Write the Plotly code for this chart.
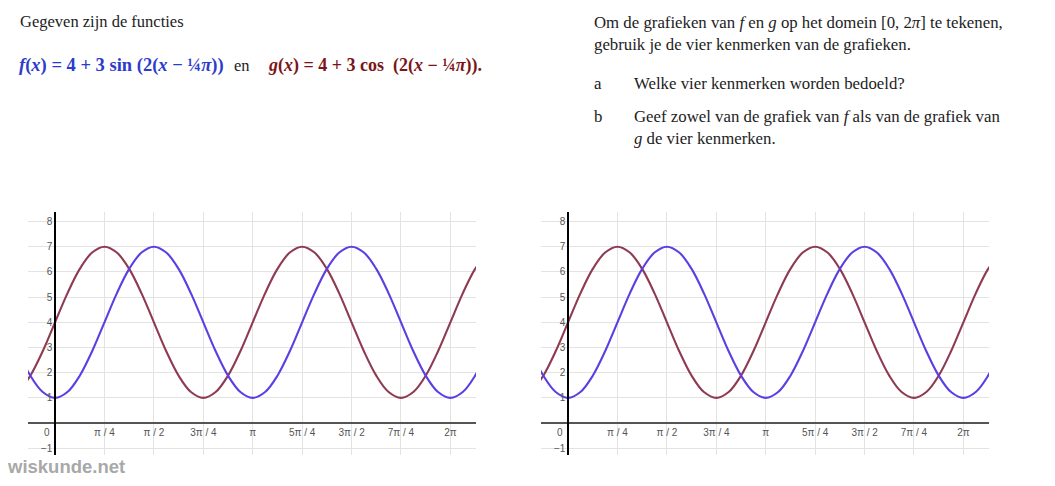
import math
import plotly.graph_objects as go

# page body has an 8px margin; the figure is sized to fill the rest of the window
OFF = 8
W, H = 1055 - OFF, 486 - OFF

# sample positions in units of pi/16
x_sixteenths = list(range(-3, 36))
# values at each pi/16 step
red_values = [1.23, 1.88, 2.85, 4, 5.15, 6.12, 6.77, 7, 6.77, 6.12, 5.15, 4, 2.85, 1.88,
              1.23, 1, 1.23, 1.88, 2.85, 4, 5.15, 6.12, 6.77, 7, 6.77, 6.12, 5.15, 4,
              2.85, 1.88, 1.23, 1, 1.23, 1.88, 2.85, 4, 5.15, 6.12, 6.77]
blue_values = [2.85, 1.88, 1.23, 1, 1.23, 1.88, 2.85, 4, 5.15, 6.12, 6.77, 7, 6.77, 6.12,
               5.15, 4, 2.85, 1.88, 1.23, 1, 1.23, 1.88, 2.85, 4, 5.15, 6.12, 6.77, 7,
               6.77, 6.12, 5.15, 4, 2.85, 1.88, 1.23, 1, 1.23, 1.88, 2.85]

x_tick_quarters = [0, 1, 2, 3, 4, 5, 6, 7, 8]
x_tick_labels = ["0\u00a0\u00a0\u00a0\u00a0\u00a0\u00a0", "π / 4", "π / 2", "3π / 4", "π",
                 "5π / 4", "3π / 2", "7π / 4", "2π"]
y_tick_vals = [-1, 1, 2, 3, 4, 5, 6, 7, 8]
y_tick_labels = ["\u22121", "1", "2", "3", "4", "5", "6", "7", "8"]

xs = [k * math.pi / 16 for k in x_sixteenths]
xtv = [q * math.pi / 4 for q in x_tick_quarters]

XMIN, XMAX = -0.43, 6.69
YMIN, YMAX = -1.27, 8.38

RED = "#8e3b52"
BLUE = "#5a40e2"


def px(v):
    return (v - OFF) / W


def py(v):
    return 1 - (v - OFF) / H


fig = go.Figure()

panels = [(28, 476), (541, 989)]
ytop, ybot = 212, 455
ydom = [py(ybot), py(ytop)]

for i, (l, r) in enumerate(panels):
    sfx = "" if i == 0 else "2"
    xa = "x" + sfx
    ya = "y" + sfx
    fig.add_trace(go.Scatter(x=xs, y=red_values, mode="lines", xaxis=xa, yaxis=ya,
                             line=dict(color=RED, width=2.1, shape="spline", smoothing=1.0),
                             showlegend=False, hoverinfo="skip"))
    fig.add_trace(go.Scatter(x=xs, y=blue_values, mode="lines", xaxis=xa, yaxis=ya,
                             line=dict(color=BLUE, width=2.1, shape="spline", smoothing=1.0),
                             showlegend=False, hoverinfo="skip"))
    xdom = [px(l), px(r)]
    ypos = xdom[0] + (0 - XMIN) / (XMAX - XMIN) * (xdom[1] - xdom[0])
    xpos = ydom[0] + (0 - YMIN) / (YMAX - YMIN) * (ydom[1] - ydom[0])
    fig.layout["xaxis" + sfx] = dict(
        domain=xdom, range=[XMIN, XMAX], anchor="free", position=xpos,
        tickvals=xtv, ticktext=x_tick_labels, showgrid=True, gridcolor="#e3e3e3",
        gridwidth=1, zeroline=False, showline=True, linecolor="#555", linewidth=1.5,
        ticks="", tickfont=dict(family="Liberation Sans, Arial", size=10, color="#555"),
        fixedrange=True,
    )
    fig.layout["yaxis" + sfx] = dict(
        domain=ydom, range=[YMIN, YMAX], anchor="free", position=ypos,
        tickvals=y_tick_vals, ticktext=y_tick_labels, showgrid=True, gridcolor="#e3e3e3",
        gridwidth=1, zeroline=False, showline=True, linecolor="#000", linewidth=1.5,
        ticks="", tickfont=dict(family="Liberation Sans, Arial", size=10, color="#555"),
        fixedrange=True,
    )

SERIF = "Liberation Serif, Times New Roman, serif"
ann = []


def txt(x, y, s, size=15.5, color="#222", anchor="left"):
    ann.append(dict(x=px(x), y=py(y), xref="paper", yref="paper", text=s,
                    showarrow=False, xanchor=anchor, yanchor="middle",
                    font=dict(family=SERIF, size=size, color=color)))


txt(18, 21, "Gegeven zijn de functies", size=16.5)
txt(17, 65, "<b><i>f</i>(<i>x</i>) = 4 + 3 sin (2(<i>x</i> − ¼<i>π</i>))</b>", size=18.5, color="#2b3bcc")
txt(232, 65, "en", size=16.5)
txt(266, 65, "<b><i>g</i>(<i>x</i>) = 4 + 3 cos  (2(<i>x</i> − ¼<i>π</i>)).</b>", size=18, color="#7b1518")

txt(592, 22, "Om de grafieken van <i>f</i> en <i>g</i> op het domein [0, 2<i>π</i>] te tekenen,", size=16.8)
txt(592, 45, "gebruik je de vier kenmerken van de grafieken.", size=16.8)
txt(592, 84, "a", size=16.8)
txt(632, 84, "Welke vier kenmerken worden bedoeld?", size=16.8)
txt(592, 116, "b", size=16.8)
txt(632, 116, "Geef zowel van de grafiek van <i>f</i> als van de grafiek van", size=16.8)
txt(632, 139, "<i>g</i> de vier kenmerken.", size=16.8)

ann.append(dict(x=px(5), y=py(466), xref="paper", yref="paper", text="<b>wiskunde.net</b>",
                showarrow=False, xanchor="left", yanchor="middle",
                font=dict(family="Liberation Sans, Arial", size=18.5, color="#a8a8a8")))

fig.update_layout(width=W, height=H, margin=dict(l=0, r=0, t=0, b=0),
                  paper_bgcolor="white", plot_bgcolor="white", annotations=ann,
                  showlegend=False)

fig.write_html("out.html", config={"displayModeBar": False})
